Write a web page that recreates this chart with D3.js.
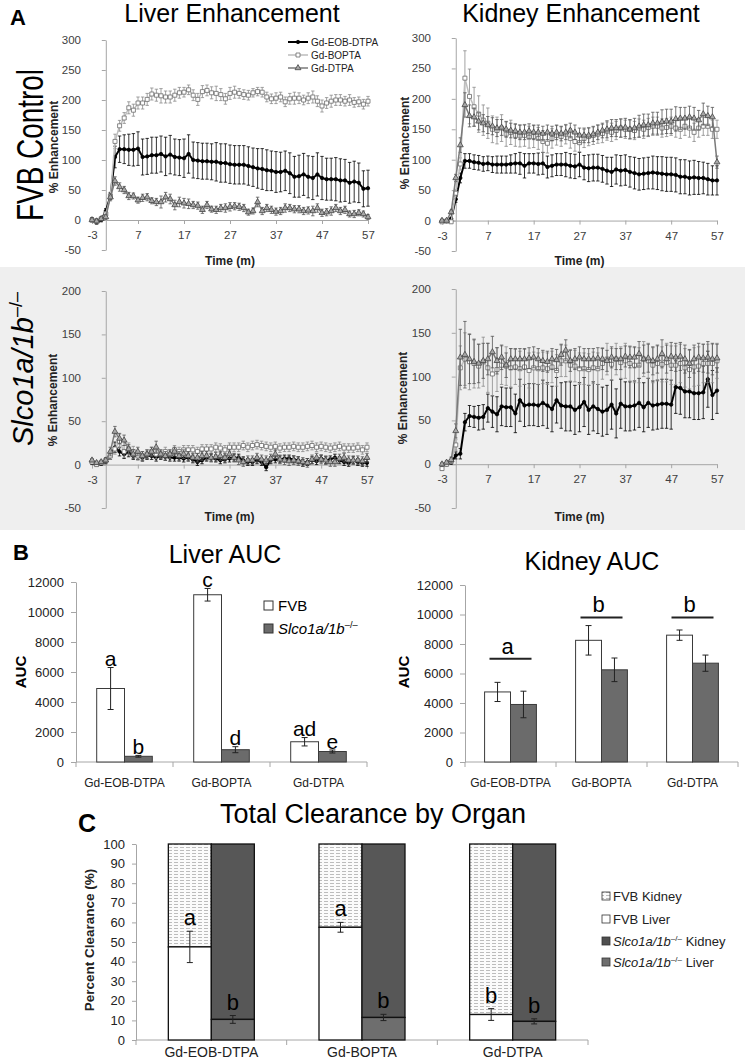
<!DOCTYPE html>
<html lang="en">
<head>
<meta charset="UTF-8">
<title>Gd contrast enhancement and clearance</title>
<script src="https://d3js.org/d3.v7.min.js"></script>
<style>
  body { margin: 0; background: #fff; }
  svg { display: block; font-family: "Liberation Sans", Arial, sans-serif; }
</style>
</head>
<body>
<svg id="fig" width="745" height="1062"></svg>
<script>
// ---- data ----
const times = [
  -3,-2,-1,0,1,2,3,4,5,6,
  7,8,9,10,11,12,13,14,15,16,
  17,18,19,20,21,22,23,24,25,26,
  27,28,29,30,31,32,33,34,35,36,
  37,38,39,40,41,42,43,44,45,46,
  47,48,49,50,51,52,53,54,55,56,
  57];
const timeTicks = [-3, 7, 17, 27, 37, 47, 57];
const fvbEnhTicks = [-50, 0, 50, 100, 150, 200, 250, 300];
const slcoEnhTicks = [-50, 0, 50, 100, 150, 200];
const compounds = ["Gd-EOB-DTPA", "Gd-BOPTA", "Gd-DTPA"];

// FVB liver
const fvbLiverEob = [
  1,-3,0,15,40,105,118,118,117,117,
  119,105,106,108,108,110,106,109,105,104,
  103,110,100,99,98,98,97,97,95,95,
  93,92,92,92,90,88,86,85,83,82,
  80,80,82,78,72,73,76,72,70,76,
  70,68,68,68,66,66,62,64,62,52,
  53];
const fvbLiverEobErr = [
  3,4,3,4,6,18,22,24,26,27,
  28,30,30,30,30,30,32,32,30,30,
  32,32,30,30,30,30,30,32,32,32,
  32,32,32,32,32,32,33,34,34,33,
  34,33,33,34,34,35,35,35,36,36,
  36,35,35,36,36,35,34,34,33,30,
  30];
const fvbLiverBopta = [
  0,-2,2,10,40,131,157,170,187,183,
  195,195,201,210,208,207,205,205,208,212,
  213,217,208,201,214,216,212,211,209,202,
  211,213,211,209,208,212,214,213,205,202,
  203,205,197,202,203,203,200,203,205,198,
  190,195,198,200,200,198,200,196,197,193,
  198];
const fvbLiverBoptaErr = [
  3,3,3,4,5,12,9,9,10,10,
  10,10,10,10,10,12,10,10,10,9,
  8,8,9,10,10,9,10,12,10,9,
  10,10,8,8,8,7,7,8,8,8,
  9,8,8,9,10,9,8,9,10,9,
  10,9,10,9,9,8,9,8,8,8,
  8];
const fvbLiverDtpa = [
  0,-2,2,5,38,65,55,50,40,40,
  33,37,38,32,30,30,38,35,25,30,
  28,27,25,24,17,25,18,17,20,20,
  22,23,22,20,13,15,30,15,20,17,
  14,15,20,20,18,18,15,16,15,20,
  12,13,15,20,15,17,10,10,12,10,
  5];
const fvbLiverDtpaErr = [
  3,4,3,4,6,7,7,6,6,5,
  5,6,6,5,6,10,8,8,8,8,
  8,8,6,6,6,6,5,6,6,7,
  7,6,6,6,5,5,8,6,6,6,
  6,6,7,6,6,6,6,6,8,7,
  6,6,7,6,6,6,5,6,5,5,
  4];

// FVB kidney
const fvbKidneyEob = [
  0,-1,3,35,70,98,98,96,95,93,
  94,92,92,92,92,93,94,94,90,94,
  94,93,94,88,90,92,92,92,90,89,
  92,87,86,87,87,85,82,80,84,82,
  83,80,78,76,77,78,79,78,77,76,
  76,75,72,72,70,71,70,70,68,66,
  66];
const fvbKidneyEobErr = [
  2,2,2,5,8,12,12,12,12,12,
  12,13,14,14,14,15,16,18,20,16,
  16,18,18,18,18,18,18,20,20,20,
  20,20,22,22,22,22,22,24,24,25,
  25,25,26,26,26,26,27,27,28,28,
  28,28,28,28,28,28,27,26,26,24,
  24];
const fvbKidneyBopta = [
  -2,-1,-2,45,93,234,204,187,175,165,
  160,150,148,152,142,145,140,139,140,137,
  138,135,130,127,135,140,138,142,135,130,
  128,135,138,140,142,143,147,145,148,152,
  150,150,148,152,150,153,155,155,152,153,
  155,152,150,155,152,145,152,155,155,150,
  150];
const fvbKidneyBoptaErr = [
  2,2,2,6,10,45,45,32,30,25,
  25,22,22,22,20,20,18,18,18,18,
  18,18,18,16,16,16,16,16,16,16,
  15,15,15,15,15,15,15,15,15,15,
  15,15,15,15,15,15,15,15,15,15,
  15,15,15,15,15,15,15,15,15,15,
  15];
const fvbKidneyDtpa = [
  0,0,14,70,124,190,172,170,163,160,
  157,155,152,153,150,148,147,145,145,147,
  145,145,143,145,143,145,143,145,148,145,
  140,140,140,142,145,148,150,152,152,152,
  153,150,152,155,157,157,160,160,162,163,
  163,167,168,168,170,168,165,175,172,170,
  96];
const fvbKidneyDtpaErr = [
  2,2,3,6,12,20,18,15,14,14,
  14,14,14,13,13,12,12,12,12,12,
  12,12,12,12,12,12,12,12,12,12,
  12,12,12,12,12,12,14,14,14,15,
  15,16,16,18,18,18,18,18,20,20,
  20,20,18,18,18,18,16,18,16,16,
  10];

// Slco1a/1b-/- liver
const slcoLiverEob = [
  2,0,1,4,10,20,15,12,14,10,
  10,8,10,10,8,10,9,8,8,8,
  7,8,6,3,5,8,8,7,5,6,
  7,8,8,5,3,3,5,3,-3,5,
  6,6,7,7,6,5,2,3,5,4,
  7,5,6,8,5,3,2,5,3,2,
  2];
const slcoLiverEobErr = [
  2,2,2,3,4,6,5,5,5,4,
  4,4,4,4,4,4,4,4,4,4,
  4,4,4,4,4,4,4,4,4,4,
  4,4,4,4,4,4,4,4,4,4,
  4,4,4,4,4,4,4,4,4,4,
  4,4,4,4,4,4,4,4,4,4,
  4];
const slcoLiverBopta = [
  3,0,2,5,10,18,27,15,18,15,
  10,10,12,15,12,12,15,12,17,15,
  17,17,17,15,18,18,18,20,19,17,
  20,20,20,22,20,22,23,22,21,20,
  21,19,20,20,21,20,20,21,22,20,
  21,20,19,20,21,19,19,19,20,17,
  20];
const slcoLiverBoptaErr = [
  2,2,2,3,4,6,8,7,7,6,
  5,5,5,5,5,5,5,5,5,5,
  5,5,5,5,5,5,5,5,5,5,
  5,5,5,5,5,5,5,5,5,5,
  5,5,5,5,5,5,5,5,5,5,
  5,5,5,5,5,5,5,5,5,5,
  5];
const slcoLiverDtpa = [
  5,2,3,5,15,38,30,28,18,12,
  15,10,12,15,20,12,10,12,15,10,
  12,10,8,8,10,10,8,9,10,8,
  12,8,5,3,5,5,8,6,5,7,
  12,6,5,4,5,4,3,2,6,8,
  6,5,3,3,7,8,5,5,5,4,
  8];
const slcoLiverDtpaErr = [
  2,2,2,3,5,6,6,6,5,5,
  5,5,5,5,7,5,5,5,5,5,
  5,5,5,5,5,5,5,5,5,5,
  5,5,5,5,5,5,5,5,5,5,
  5,5,5,5,5,5,5,5,5,5,
  5,5,5,5,5,5,5,5,5,5,
  5];

// Slco1a/1b-/- kidney
const slcoKidneyEob = [
  -2,0,2,10,12,48,55,54,53,54,
  64,60,57,66,65,65,58,73,67,68,
  68,67,70,67,63,73,67,66,66,62,
  65,71,62,66,63,60,62,68,58,69,
  66,66,67,70,65,70,67,68,69,69,
  68,88,87,83,83,81,81,82,97,79,
  84];
const slcoKidneyEobErr = [
  2,2,2,4,6,10,12,12,14,14,
  16,18,20,22,22,22,22,24,24,24,
  24,24,26,26,26,26,26,28,28,28,
  28,28,28,28,28,28,28,28,28,28,
  28,28,28,28,28,28,28,28,28,28,
  28,30,30,30,30,30,30,30,32,28,
  26];
const slcoKidneyBopta = [
  -5,0,3,22,110,120,117,115,112,117,
  110,103,108,113,112,110,111,109,111,107,
  110,109,110,109,111,107,118,118,113,112,
  109,109,108,110,109,115,120,114,120,116,
  118,115,113,113,120,118,113,115,114,116,
  113,113,115,110,108,111,112,115,115,115,
  118];
const slcoKidneyBoptaErr = [
  2,2,2,6,25,30,32,28,25,28,
  28,25,25,22,22,22,20,20,20,20,
  18,18,18,18,18,18,18,18,18,18,
  18,18,18,18,18,18,18,18,18,18,
  20,20,20,20,20,20,20,20,20,22,
  22,22,22,22,22,22,22,22,22,22,
  20];
const slcoKidneyDtpa = [
  0,2,5,38,122,125,120,117,115,118,
  120,128,118,122,113,120,120,120,120,121,
  122,120,118,117,120,119,125,130,118,120,
  122,120,120,120,121,120,118,122,120,120,
  123,122,122,126,120,121,118,120,126,120,
  123,122,123,120,115,120,122,121,122,120,
  121];
const slcoKidneyDtpaErr = [
  2,2,3,8,32,38,28,25,22,20,
  18,18,15,14,14,12,12,12,12,12,
  12,12,12,12,12,12,12,12,12,12,
  12,12,12,12,12,12,12,12,12,12,
  12,12,12,14,16,16,16,16,16,16,
  16,16,16,16,16,16,16,16,18,18,
  16];

// B: AUC
const aucTicks = [0, 2000, 4000, 6000, 8000, 10000, 12000];
const liverAucFvb = [4900, 11150, 1350];
const liverAucFvbErr = [1400, 420, 280];
const liverAucSlco = [380, 820, 700];
const liverAucSlcoErr = [60, 200, 100];
const liverAucLetters = [["a", "b"], ["c", "d"], ["ad", "e"]];
const kidneyAucFvb = [4750, 8250, 8600];
const kidneyAucFvbErr = [650, 1000, 350];
const kidneyAucSlco = [3900, 6250, 6700];
const kidneyAucSlcoErr = [900, 800, 550];
const kidneyAucLetters = ["a", "b", "b"];
const kidneyAucLetterLevel = [7000, 9800, 9800];

// C: percent clearance
const pctTicks = [0, 10, 20, 30, 40, 50, 60, 70, 80, 90, 100];
const fvbLiverPct = [47.5, 57.5, 13];
const fvbLiverPctErr = [8, 2.5, 3];
const fvbKidneyPct = [52.5, 42.5, 87];
const slcoLiverPct = [10.5, 11.5, 9.5];
const slcoLiverPctErr = [2, 1.6, 1.3];
const slcoKidneyPct = [89.5, 88.5, 90.5];
const clearanceLetters = [["a", "b"], ["a", "b"], ["b", "b"]];

// ---- drawing ----
const svg = d3.select("#fig");
const axisGray = "#a6a6a6";
const labelGray = "#404040";
const plain = d => String(d); // no thousands separator, ascii minus

// grey band behind the knockout row
svg.append("rect").attr("x", 0).attr("y", 267).attr("width", 745).attr("height", 263).attr("fill", "#efefef");

// horizontal dashed fill for FVB kidney
const defs = svg.append("defs");
const pat = defs.append("pattern").attr("id", "hatch").attr("patternUnits", "userSpaceOnUse")
  .attr("width", 6).attr("height", 3);
pat.append("rect").attr("width", 6).attr("height", 3).attr("fill", "#fbfbfb");
pat.append("line").attr("x1", 0).attr("x2", 6).attr("y1", 1.5).attr("y2", 1.5)
  .attr("stroke", "#b4b4b4").attr("stroke-width", 0.9).attr("stroke-dasharray", "4,2");

function txt(g, x, y, s, size, opts = {}) {
  return g.append("text").attr("x", x).attr("y", y).attr("font-size", size)
    .attr("text-anchor", opts.anchor || "middle")
    .attr("font-weight", opts.bold ? "bold" : null)
    .attr("font-style", opts.italic ? "italic" : null)
    .attr("fill", opts.fill || "#000").text(s);
}
function vtxt(g, x, y, s, size, opts = {}) {
  return g.append("text").attr("transform", `translate(${x},${y}) rotate(-90)`)
    .attr("font-size", size).attr("text-anchor", "middle")
    .attr("font-weight", opts.bold ? "bold" : null)
    .attr("font-style", opts.italic ? "italic" : null)
    .attr("fill", opts.fill || "#000").text(s);
}
// "Slco1a/1b-/-" with superscript
function slcoLabel(sel, size, rest) {
  sel.append("tspan").attr("font-style", "italic").text("Slco1a/1b");
  sel.append("tspan").attr("font-size", size * 0.62).attr("dy", -size * 0.38).text("\u2013/\u2013");
  if (rest) sel.append("tspan").attr("dy", size * 0.38).text(rest);
  return sel;
}

const seriesStyle = [
  { name: "Gd-EOB-DTPA", line: "#000", width: 2, err: "#000", symbol: d3.symbolCircle, size: 9, fill: "#000", stroke: "#000" },
  { name: "Gd-BOPTA", line: "#bdbdbd", width: 1.5, err: "#8a8a8a", symbol: d3.symbolSquare, size: 16, fill: "#fff", stroke: "#6a6a6a" },
  { name: "Gd-DTPA", line: "#7a7a7a", width: 1.5, err: "#555", symbol: d3.symbolTriangle, size: 15, fill: "#a8a8a8", stroke: "#444" }
];

function enhancementChart(p) {
  const x = d3.scaleLinear().domain([times[0], times[times.length - 1]]).range([p.left, p.right]);
  const y = d3.scaleLinear().domain([p.yTicks[0], p.yTicks[p.yTicks.length - 1]]).range([p.bottom, p.top]);
  const g = svg.append("g");

  // y axis sits at t = 0, labels at the plot's left edge
  g.append("g").attr("transform", `translate(${x(0)},0)`)
    .call(d3.axisLeft(y).tickValues(p.yTicks).tickSize(4).tickSizeOuter(0).tickFormat(""))
    .call(a => a.selectAll("line,path").attr("stroke", axisGray));
  g.selectAll(".ylab").data(p.yTicks).join("text")
    .attr("x", p.left - 11).attr("y", d => y(d)).attr("dy", "0.35em")
    .attr("text-anchor", "end").attr("font-size", 11.5).attr("fill", labelGray).text(plain);

  // x axis along zero
  g.append("g").attr("transform", `translate(0,${y(0)})`)
    .call(d3.axisBottom(x).tickValues(timeTicks).tickSize(4).tickSizeOuter(0).tickPadding(7).tickFormat(plain))
    .call(a => a.selectAll("line,path").attr("stroke", axisGray))
    .call(a => a.selectAll("text").attr("font-size", 11.5).attr("fill", labelGray)
      .attr("font-family", "Liberation Sans, Arial, sans-serif"));

  txt(g, (p.left + p.right) / 2, p.timeY, "Time (m)", 12, { bold: true, fill: "#222" });
  vtxt(g, p.yLabX, p.yLabY, "% Enhancement", 12, { bold: true, fill: "#222" });

  p.series.forEach((s, i) => {
    const st = seriesStyle[i];
    const pts = times.map((t, k) => ({ t, v: s[0][k], e: s[1][k] }));
    g.append("g").attr("stroke", st.err).attr("stroke-width", 0.8).attr("fill", "none")
      .selectAll("path").data(pts).join("path")
      .attr("d", d => {
        const cx = x(d.t), hi = y(d.v + d.e), lo = y(d.v - d.e);
        return `M${cx},${lo}V${hi}M${cx - 1.7},${hi}h3.4M${cx - 1.7},${lo}h3.4`;
      });
    g.append("path").datum(pts)
      .attr("d", d3.line().x(d => x(d.t)).y(d => y(d.v)))
      .attr("fill", "none").attr("stroke", st.line).attr("stroke-width", st.width);
    g.append("g").selectAll("path").data(pts).join("path")
      .attr("transform", d => `translate(${x(d.t)},${y(d.v)})`)
      .attr("d", d3.symbol(st.symbol, st.size))
      .attr("fill", st.fill).attr("stroke", st.stroke).attr("stroke-width", 0.8);
  });
}

enhancementChart({ left: 92, right: 368, top: 40, bottom: 250, yTicks: fvbEnhTicks, timeY: 265, yLabX: 58, yLabY: 147,
  series: [[fvbLiverEob, fvbLiverEobErr], [fvbLiverBopta, fvbLiverBoptaErr], [fvbLiverDtpa, fvbLiverDtpaErr]] });
enhancementChart({ left: 442, right: 717, top: 38, bottom: 251, yTicks: fvbEnhTicks, timeY: 265, yLabX: 409, yLabY: 143,
  series: [[fvbKidneyEob, fvbKidneyEobErr], [fvbKidneyBopta, fvbKidneyBoptaErr], [fvbKidneyDtpa, fvbKidneyDtpaErr]] });
enhancementChart({ left: 92, right: 367, top: 291, bottom: 508, yTicks: slcoEnhTicks, timeY: 521, yLabX: 57, yLabY: 400,
  series: [[slcoLiverEob, slcoLiverEobErr], [slcoLiverBopta, slcoLiverBoptaErr], [slcoLiverDtpa, slcoLiverDtpaErr]] });
enhancementChart({ left: 442, right: 717, top: 289, bottom: 508, yTicks: slcoEnhTicks, timeY: 521, yLabX: 407, yLabY: 398,
  series: [[slcoKidneyEob, slcoKidneyEobErr], [slcoKidneyBopta, slcoKidneyBoptaErr], [slcoKidneyDtpa, slcoKidneyDtpaErr]] });

// panel A titles and row labels
txt(svg, 10, 25, "A", 22, { anchor: "start", bold: true });
txt(svg, 232, 22, "Liver Enhancement", 25);
txt(svg, 581, 22, "Kidney Enhancement", 25);
vtxt(svg, 43, 145, "FVB Control", 36).attr("textLength", 152).attr("lengthAdjust", "spacingAndGlyphs");
slcoLabel(svg.append("text").attr("transform", "translate(33,369) rotate(-90)")
  .attr("font-size", 29).attr("text-anchor", "middle"), 29);

// legend for the curves
const lg = svg.append("g");
seriesStyle.forEach((st, i) => {
  const ly = 42 + i * 13;
  lg.append("line").attr("x1", 288).attr("x2", 308).attr("y1", ly).attr("y2", ly)
    .attr("stroke", st.line).attr("stroke-width", st.width);
  lg.append("path").attr("transform", `translate(298,${ly})`).attr("d", d3.symbol(st.symbol, st.size))
    .attr("fill", st.fill).attr("stroke", st.stroke).attr("stroke-width", 0.8);
  txt(lg, 311, ly, st.name, 10, { anchor: "start", fill: "#222" }).attr("dy", "0.35em");
});

// ---- panel B ----
function aucChart(p) {
  const x0 = d3.scaleBand().domain(compounds).range([p.left, p.right]);
  const x1 = d3.scaleBand().domain(["FVB", "Slco"]).range([0, x0.bandwidth()]).paddingOuter(p.outer);
  const y = d3.scaleLinear().domain([0, 12000]).range([762, p.top]);
  const g = svg.append("g");

  g.append("g").attr("transform", `translate(${p.left},0)`)
    .call(d3.axisLeft(y).tickValues(aucTicks).tickSize(5).tickSizeOuter(0).tickPadding(7).tickFormat(plain))
    .call(a => a.selectAll("line,path").attr("stroke", axisGray))
    .call(a => a.selectAll("text").attr("font-size", 13).attr("fill", "#222")
      .attr("font-family", "Liberation Sans, Arial, sans-serif"));
  g.append("line").attr("x1", p.left).attr("x2", p.right).attr("y1", y(0)).attr("y2", y(0)).attr("stroke", axisGray);
  g.selectAll(".bt").data(compounds.map(c => x0(c)).concat([p.right])).join("line")
    .attr("x1", d => d).attr("x2", d => d).attr("y1", y(0)).attr("y2", y(0) + 5).attr("stroke", axisGray);
  g.selectAll(".xl").data(compounds).join("text")
    .attr("x", d => x0(d) + x0.bandwidth() / 2).attr("y", 787)
    .attr("text-anchor", "middle").attr("font-size", 12).attr("fill", "#222").text(d => d);

  const groups = [
    { key: "FVB", vals: p.fvb, errs: p.fvbErr, fill: "#fff" },
    { key: "Slco", vals: p.slco, errs: p.slcoErr, fill: "#6b6b6b" }
  ];
  groups.forEach((grp, gi) => {
    compounds.forEach((c, i) => {
      const bx = x0(c) + x1(grp.key), bw = x1.bandwidth(), cx = bx + bw / 2;
      g.append("rect").attr("x", bx).attr("y", y(grp.vals[i])).attr("width", bw)
        .attr("height", y(0) - y(grp.vals[i])).attr("fill", grp.fill).attr("stroke", "#3a3a3a").attr("stroke-width", 1);
      const hi = y(grp.vals[i] + grp.errs[i]), lo = y(grp.vals[i] - grp.errs[i]);
      g.append("path").attr("d", `M${cx},${lo}V${hi}M${cx - 3},${hi}h6M${cx - 3},${lo}h6`)
        .attr("stroke", "#222").attr("fill", "none").attr("stroke-width", 1);
      if (p.letters) txt(g, cx, hi - 1.5, p.letters[i][gi], 21);
    });
  });
  if (p.bracketLetters) {
    compounds.forEach((c, i) => {
      const cx = x0(c) + x0.bandwidth() / 2, ly = y(p.bracketLevel[i]);
      g.append("line").attr("x1", cx - 21).attr("x2", cx + 21).attr("y1", ly).attr("y2", ly)
        .attr("stroke", "#222").attr("stroke-width", 2);
      txt(g, cx - 3, ly - 5, p.bracketLetters[i], 22);
    });
  }
  return g;
}

txt(svg, 13, 560, "B", 22, { anchor: "start", bold: true });
txt(svg, 225, 563, "Liver AUC", 25);
txt(svg, 592, 570, "Kidney AUC", 25);
aucChart({ left: 76, right: 367, top: 582, outer: 0.745, fvb: liverAucFvb, fvbErr: liverAucFvbErr,
  slco: liverAucSlco, slcoErr: liverAucSlcoErr, letters: liverAucLetters });
aucChart({ left: 465, right: 738, top: 585, outer: 0.756, fvb: kidneyAucFvb, fvbErr: kidneyAucFvbErr,
  slco: kidneyAucSlco, slcoErr: kidneyAucSlcoErr, bracketLetters: kidneyAucLetters, bracketLevel: kidneyAucLetterLevel });
vtxt(svg, 26, 672, "AUC", 15, { bold: true });
vtxt(svg, 409, 672, "AUC", 15, { bold: true });

// AUC legend
const bl = svg.append("g");
bl.append("rect").attr("x", 264).attr("y", 601).attr("width", 9).attr("height", 9).attr("fill", "#fff").attr("stroke", "#333");
txt(bl, 278, 611, "FVB", 15, { anchor: "start" });
bl.append("rect").attr("x", 264).attr("y", 624).attr("width", 9).attr("height", 9).attr("fill", "#6b6b6b").attr("stroke", "#333");
slcoLabel(bl.append("text").attr("x", 278).attr("y", 634).attr("font-size", 15), 15);

// ---- panel C ----
txt(svg, 78, 832, "C", 25, { anchor: "start", bold: true });
txt(svg, 373, 823, "Total Clearance by Organ", 27);
{
  const left = 136, right = 588;
  const x0 = d3.scaleBand().domain(compounds).range([left, right]);
  const x1 = d3.scaleBand().domain(["FVB", "Slco"]).range([0, x0.bandwidth()]).paddingOuter(0.752);
  const y = d3.scaleLinear().domain([0, 100]).range([1040, 844]);
  const g = svg.append("g");

  g.append("g").attr("transform", `translate(${left},0)`)
    .call(d3.axisLeft(y).tickValues(pctTicks).tickSize(4).tickSizeOuter(0).tickPadding(7).tickFormat(plain))
    .call(a => a.selectAll("line,path").attr("stroke", axisGray))
    .call(a => a.selectAll("text").attr("font-size", 13).attr("fill", "#222")
      .attr("font-family", "Liberation Sans, Arial, sans-serif"));
  g.append("line").attr("x1", left).attr("x2", right).attr("y1", y(0)).attr("y2", y(0)).attr("stroke", axisGray);
  g.selectAll(".bt").data(compounds.map(c => x0(c)).concat([right])).join("line")
    .attr("x1", d => d).attr("x2", d => d).attr("y1", y(0)).attr("y2", y(0) + 5).attr("stroke", axisGray);
  g.selectAll(".xl").data(compounds).join("text")
    .attr("x", d => x0(d) + x0.bandwidth() / 2).attr("y", 1057)
    .attr("text-anchor", "middle").attr("font-size", 14).attr("fill", "#222").text(d => d);
  vtxt(g, 94, 940, "Percent Clearance (%)", 13.5, { bold: true, fill: "#222" });

  const groups = [
    { key: "FVB", liver: fvbLiverPct, err: fvbLiverPctErr, kidney: fvbKidneyPct, liverFill: "#fff", kidneyFill: "url(#hatch)" },
    { key: "Slco", liver: slcoLiverPct, err: slcoLiverPctErr, kidney: slcoKidneyPct, liverFill: "#6e6e6e", kidneyFill: "#575757" }
  ];
  groups.forEach((grp, gi) => {
    compounds.forEach((c, i) => {
      const bx = x0(c) + x1(grp.key), bw = x1.bandwidth(), cx = bx + bw / 2;
      const top = grp.liver[i] + grp.kidney[i];
      g.append("rect").attr("x", bx).attr("y", y(top)).attr("width", bw)
        .attr("height", y(grp.liver[i]) - y(top)).attr("fill", grp.kidneyFill).attr("stroke", "#111").attr("stroke-width", 1.3);
      g.append("rect").attr("x", bx).attr("y", y(grp.liver[i])).attr("width", bw)
        .attr("height", y(0) - y(grp.liver[i])).attr("fill", grp.liverFill).attr("stroke", "#111").attr("stroke-width", 1.3);
      const hi = y(grp.liver[i] + grp.err[i]), lo = y(grp.liver[i] - grp.err[i]);
      g.append("path").attr("d", `M${cx},${lo}V${hi}M${cx - 3},${hi}h6M${cx - 3},${lo}h6`)
        .attr("stroke", "#222").attr("fill", "none").attr("stroke-width", 1);
      txt(g, cx, hi - 6, clearanceLetters[i][gi], 22);
    });
  });

  // legend
  const items = [
    { fill: "url(#hatch)", label: "FVB Kidney" },
    { fill: "#fff", label: "FVB Liver" },
    { fill: "#4f4f4f", slco: " Kidney" },
    { fill: "#6e6e6e", slco: " Liver" }
  ];
  const ly = [896, 919, 941, 962];
  items.forEach((it, i) => {
    g.append("rect").attr("x", 602).attr("y", ly[i] - 4).attr("width", 8).attr("height", 8)
      .attr("fill", it.fill).attr("stroke", "#333").attr("stroke-width", 0.8);
    const t = g.append("text").attr("x", 613).attr("y", ly[i] + 5).attr("font-size", 13).attr("fill", "#222");
    if (it.slco) slcoLabel(t, 13, it.slco); else t.text(it.label);
  });
}
</script>
</body>
</html>
